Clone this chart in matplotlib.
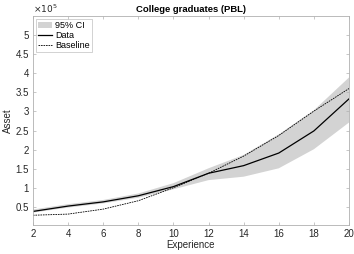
import matplotlib.pyplot as plt
import numpy as np
from matplotlib.ticker import FormatStrFormatter

plt.rcParams['font.family'] = ['Liberation Sans', 'DejaVu Sans']

# values in units of 1e5
experience = [2, 4, 6, 8, 10, 12, 14, 16, 18, 20]
data = [0.38, 0.52, 0.63, 0.79, 1.03, 1.38, 1.58, 1.91, 2.49, 3.33]
baseline = [0.28, 0.31, 0.44, 0.66, 1.00, 1.38, 1.83, 2.37, 3.01, 3.60]
ci_lower = [0.35, 0.48, 0.59, 0.74, 0.96, 1.20, 1.29, 1.51, 2.01, 2.71]
ci_upper = [0.43, 0.57, 0.68, 0.85, 1.12, 1.51, 1.86, 2.40, 3.03, 3.89]

fig = plt.figure(figsize=(3.54, 2.54), dpi=100)
ax = fig.add_axes([0.093, 0.115, 0.893, 0.822])

ax.fill_between(experience, ci_lower, ci_upper, color='#d3d3d3',
                edgecolor='none', label='95% CI')
ax.plot(experience, data, color='black', lw=0.9, label='Data')
ax.plot(experience, baseline, color='black', lw=0.6, dashes=(2, 1),
        label='Baseline')

ax.set_xlim(2, 20)
ax.set_ylim(0.03, 5.5)
ax.set_xticks(np.arange(2, 21, 2))
ax.set_yticks(np.arange(0.5, 5.01, 0.5))
ax.yaxis.set_major_formatter(FormatStrFormatter('%g'))

for s in ax.spines.values():
    s.set_color('#b0b0b0')
    s.set_linewidth(0.6)
ax.tick_params(direction='in', length=2.2, width=0.5, color='#b0b0b0',
               labelsize=7, labelcolor='#262626', top=True, right=True, pad=3)

ax.set_xlabel('Experience', fontsize=7, color='#262626', labelpad=1)
ax.set_ylabel('Asset', fontsize=7, color='#262626', labelpad=2)
ax.set_title('College graduates (PBL)', fontsize=6.8, fontweight='bold', pad=3)
ax.text(0, 1.005, r'$\times10^5$', transform=ax.transAxes, fontsize=6.5,
        color='#262626', ha='left', va='bottom')

leg = ax.legend(loc='upper left', fontsize=6.5, handlelength=1.6,
                handletextpad=0.3, borderpad=0.25, labelspacing=0.1,
                fancybox=False, borderaxespad=0.3)
leg.get_frame().set_edgecolor('#b0b0b0')
leg.get_frame().set_linewidth(0.5)

plt.savefig('out.png', dpi=100)
